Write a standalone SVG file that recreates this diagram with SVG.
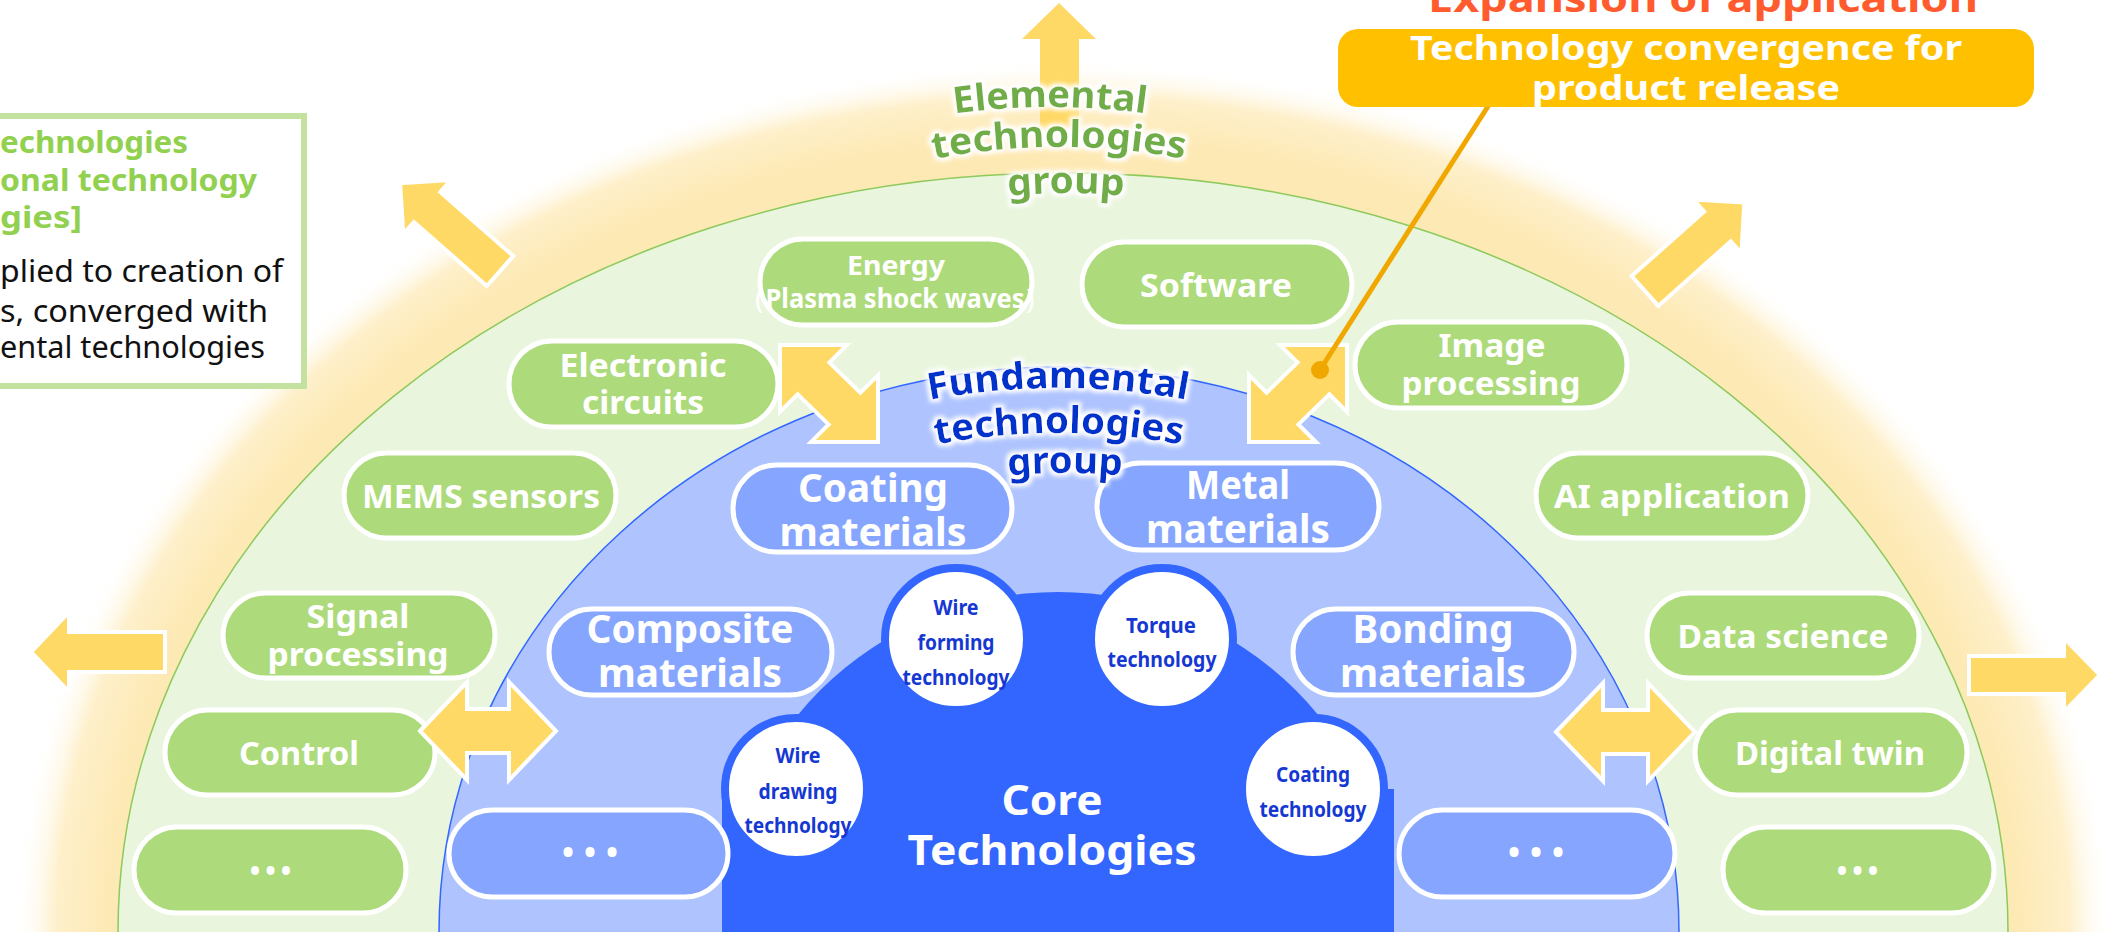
<svg xmlns="http://www.w3.org/2000/svg" width="2111" height="932" viewBox="0 0 2111 932">
<defs>
<style>
text{font-family:'Noto Sans','DejaVu Sans',sans-serif;}
.gp{fill:#ADDB7B;stroke:#fff;stroke-width:5;}
.bp{fill:#86A5FE;stroke:#fff;stroke-width:5;}
.wt{fill:#fff;font-weight:700;text-anchor:middle;}
.g32{font-size:32px;}
.b40{font-size:40px;}
.ct{fill:#1638D2;font-weight:700;font-size:21px;text-anchor:middle;}
.ar{fill:#FFD966;stroke:#fff;stroke-width:4;stroke-linejoin:miter;}
.cc{fill:#fff;stroke:#3366FF;stroke-width:8;}
.arcg{fill:#70AD47;font-weight:700;font-size:37px;}
.arcb{fill:#0033CC;font-weight:700;font-size:37px;}
</style>
<radialGradient id="glowG" cx="0.5" cy="0.5" r="0.5">
<stop offset="0" stop-color="#FDE8B0"/>
<stop offset="0.9" stop-color="#FDE9B4"/>
<stop offset="0.95" stop-color="#FEF0CB"/>
<stop offset="0.99" stop-color="#FFFFFF" stop-opacity="0"/>
</radialGradient>
<filter id="wglow" x="-20%" y="-40%" width="140%" height="180%">
<feMorphology in="SourceAlpha" operator="dilate" radius="3" result="d"/>
<feGaussianBlur in="d" stdDeviation="2" result="b"/>
<feFlood flood-color="#ffffff"/>
<feComposite in2="b" operator="in" result="w"/>
<feMerge><feMergeNode in="w"/><feMergeNode in="SourceGraphic"/></feMerge>
</filter>
<path id="pE1" d="M350,807 A700,700 0 0 1 1750,807"/>
<path id="pE2" d="M399,807 A660,660 0 0 1 1719,807"/>
<path id="pE3" d="M452,807 A614,614 0 0 1 1680,807"/>
<path id="pF1" d="M358,1088 A700,700 0 0 1 1758,1088"/>
<path id="pF2" d="M404,1088 A655,655 0 0 1 1714,1088"/>
<path id="pF3" d="M450,1088 A615,615 0 0 1 1680,1088"/>
</defs>

<rect width="2111" height="932" fill="#fff"/>

<g id="background">
<ellipse cx="1063" cy="932" rx="1060" ry="880" fill="url(#glowG)"/>
<ellipse id="elemental-area" cx="1063" cy="932" rx="945" ry="759" fill="#E9F5DD" stroke="#8DC95C" stroke-width="1.5"/>
<ellipse id="fundamental-area" cx="1059" cy="932" rx="620" ry="565" fill="#AFC4FF" stroke="#3366FF" stroke-width="1.5"/>
</g>

<g id="core">
<ellipse cx="1058" cy="927" rx="336" ry="335" fill="#3366FF"/>
<rect x="722" y="789" width="672" height="140" fill="#3366FF"/>
<text class="wt" x="1052" y="815" font-size="42" textLength="101" lengthAdjust="spacingAndGlyphs">Core</text>
<text class="wt" x="1052" y="865" font-size="42" textLength="289" lengthAdjust="spacingAndGlyphs">Technologies</text>
</g>

<g id="wire-forming">
<circle class="cc" cx="956" cy="639" r="71"/>
<text class="ct" x="956" y="615" textLength="45" lengthAdjust="spacingAndGlyphs">Wire</text>
<text class="ct" x="956" y="650" textLength="77" lengthAdjust="spacingAndGlyphs">forming</text>
<text class="ct" x="956" y="685" textLength="107" lengthAdjust="spacingAndGlyphs">technology</text>
</g>
<g id="torque">
<circle class="cc" cx="1162" cy="639" r="71"/>
<text class="ct" x="1161" y="633" textLength="70" lengthAdjust="spacingAndGlyphs">Torque</text>
<text class="ct" x="1162" y="667" textLength="109" lengthAdjust="spacingAndGlyphs">technology</text>
</g>
<g id="wire-drawing">
<circle class="cc" cx="796" cy="789" r="71"/>
<text class="ct" x="798" y="763" textLength="45" lengthAdjust="spacingAndGlyphs">Wire</text>
<text class="ct" x="798" y="799" textLength="79" lengthAdjust="spacingAndGlyphs">drawing</text>
<text class="ct" x="798" y="833" textLength="107" lengthAdjust="spacingAndGlyphs">technology</text>
</g>
<g id="coating-tech">
<circle class="cc" cx="1313" cy="789" r="71"/>
<text class="ct" x="1313" y="782" textLength="74" lengthAdjust="spacingAndGlyphs">Coating</text>
<text class="ct" x="1313" y="817" textLength="107" lengthAdjust="spacingAndGlyphs">technology</text>
</g>

<g id="coating-materials">
<rect class="bp" x="733" y="465" width="279" height="87" rx="43.5"/>
<text class="wt b40" x="873" y="502" textLength="150" lengthAdjust="spacingAndGlyphs">Coating</text>
<text class="wt b40" x="873" y="546" textLength="187" lengthAdjust="spacingAndGlyphs">materials</text>
</g>
<g id="metal-materials">
<rect class="bp" x="1097" y="463" width="282" height="87" rx="43.5"/>
<text class="wt b40" x="1238" y="499" textLength="104" lengthAdjust="spacingAndGlyphs">Metal</text>
<text class="wt b40" x="1238" y="543" textLength="184" lengthAdjust="spacingAndGlyphs">materials</text>
</g>
<g id="composite-materials">
<rect class="bp" x="549" y="609" width="283" height="86" rx="43"/>
<text class="wt b40" x="690" y="643" textLength="207" lengthAdjust="spacingAndGlyphs">Composite</text>
<text class="wt b40" x="690" y="687" textLength="184" lengthAdjust="spacingAndGlyphs">materials</text>
</g>
<g id="bonding-materials">
<rect class="bp" x="1293" y="609" width="281" height="86" rx="43"/>
<text class="wt b40" x="1433" y="643" textLength="161" lengthAdjust="spacingAndGlyphs">Bonding</text>
<text class="wt b40" x="1433" y="687" textLength="186" lengthAdjust="spacingAndGlyphs">materials</text>
</g>
<g id="blue-more-left">
<rect class="bp" x="449" y="810" width="279" height="87" rx="43.5"/>
<text class="wt" x="595" y="864" font-size="32" letter-spacing="10">•••</text>
</g>
<g id="blue-more-right">
<rect class="bp" x="1399" y="810" width="276" height="87" rx="43.5"/>
<text class="wt" x="1541" y="864" font-size="32" letter-spacing="10">•••</text>
</g>

<g id="energy">
<rect class="gp" x="760" y="239" width="272" height="86" rx="43"/>
<text class="wt" x="896" y="275" font-size="27" textLength="98" lengthAdjust="spacingAndGlyphs">Energy</text>
<text class="wt" x="895" y="308" font-size="27" textLength="310" lengthAdjust="spacingAndGlyphs">（Plasma shock waves）</text>
</g>
<g id="software">
<rect class="gp" x="1082" y="242" width="270" height="85" rx="42.5"/>
<text class="wt g32" x="1216" y="297" textLength="152" lengthAdjust="spacingAndGlyphs">Software</text>
</g>
<g id="electronic-circuits">
<rect class="gp" x="509" y="341" width="269" height="86" rx="43"/>
<text class="wt g32" x="643" y="377" textLength="167" lengthAdjust="spacingAndGlyphs">Electronic</text>
<text class="wt g32" x="643" y="414" textLength="122" lengthAdjust="spacingAndGlyphs">circuits</text>
</g>
<g id="image-processing">
<rect class="gp" x="1355" y="322" width="272" height="86" rx="43"/>
<text class="wt g32" x="1492" y="357" textLength="107" lengthAdjust="spacingAndGlyphs">Image</text>
<text class="wt g32" x="1491" y="395" textLength="179" lengthAdjust="spacingAndGlyphs">processing</text>
</g>
<g id="mems-sensors">
<rect class="gp" x="344" y="453" width="272" height="85" rx="42.5"/>
<text class="wt g32" x="481" y="508" textLength="238" lengthAdjust="spacingAndGlyphs">MEMS sensors</text>
</g>
<g id="ai-application">
<rect class="gp" x="1536" y="453" width="272" height="85" rx="42.5"/>
<text class="wt g32" x="1672" y="508" textLength="236" lengthAdjust="spacingAndGlyphs">AI application</text>
</g>
<g id="signal-processing">
<rect class="gp" x="223" y="593" width="272" height="85" rx="42.5"/>
<text class="wt g32" x="358" y="628" textLength="103" lengthAdjust="spacingAndGlyphs">Signal</text>
<text class="wt g32" x="358" y="666" textLength="181" lengthAdjust="spacingAndGlyphs">processing</text>
</g>
<g id="data-science">
<rect class="gp" x="1647" y="593" width="272" height="85" rx="42.5"/>
<text class="wt g32" x="1783" y="648" textLength="211" lengthAdjust="spacingAndGlyphs">Data science</text>
</g>
<g id="control">
<rect class="gp" x="165" y="710" width="270" height="85" rx="42.5"/>
<text class="wt g32" x="299" y="765" textLength="120" lengthAdjust="spacingAndGlyphs">Control</text>
</g>
<g id="digital-twin">
<rect class="gp" x="1695" y="710" width="272" height="85" rx="42.5"/>
<text class="wt g32" x="1830" y="765" textLength="190" lengthAdjust="spacingAndGlyphs">Digital twin</text>
</g>
<g id="green-more-left">
<rect class="gp" x="134" y="827" width="272" height="86" rx="43"/>
<text class="wt" x="273" y="881" font-size="28" letter-spacing="5">•••</text>
</g>
<g id="green-more-right">
<rect class="gp" x="1723" y="827" width="271" height="86" rx="43"/>
<text class="wt" x="1860" y="881" font-size="28" letter-spacing="5">•••</text>
</g>

<g id="connectors">
<polygon points="1059,3 1096,39 1079,39 1079,132 1040,132 1040,39 1022,39" fill="#FFD966"/>
<polygon class="ar" points="0,-20 97,-20 97,-36 133,0 97,36 97,20 0,20" transform="translate(500,271) rotate(221.3)"/>
<polygon class="ar" points="0,-20 97,-20 97,-36 133,0 97,36 97,20 0,20" transform="translate(1645,291) rotate(-41.7)"/>
<polygon class="ar" points="165,632 69,632 69,612 31,652 69,692 69,672 165,672"/>
<polygon class="ar" points="1969,656 2064,656 2064,638 2100,675 2064,712 2064,694 1969,694"/>
<polygon class="ar" points="420,731 467,682 467,709 509,709 509,682 556,731 509,780 509,753 467,753 467,780"/>
<polygon class="ar" points="1556,732 1603,683 1603,710 1648,710 1648,683 1695,732 1648,781 1648,754 1603,754 1603,781"/>
<polygon class="ar" points="780,345 847,345 829.4,362.6 860.4,392.6 878,375 878,442 811,442 828.6,424.4 797.6,394.4 780,412"/>
<polygon class="ar" points="1347,345 1280,345 1297.6,362.6 1266.6,392.6 1249,375 1249,442 1316,442 1298.4,424.4 1329.4,394.4 1347,412"/>
<line x1="1492" y1="100" x2="1320" y2="370" stroke="#F0A800" stroke-width="5"/>
<circle cx="1320" cy="370" r="9" fill="#F0A800"/>
</g>

<g id="elemental-label" filter="url(#wglow)">
<text class="arcg"><textPath href="#pE1" startOffset="50%" text-anchor="middle" textLength="192" lengthAdjust="spacingAndGlyphs">Elemental</textPath></text>
<text class="arcg"><textPath href="#pE2" startOffset="50%" text-anchor="middle" textLength="252" lengthAdjust="spacingAndGlyphs">technologies</textPath></text>
<text class="arcg"><textPath href="#pE3" startOffset="50%" text-anchor="middle" textLength="116" lengthAdjust="spacingAndGlyphs">group</textPath></text>
</g>
<g id="fundamental-label" filter="url(#wglow)">
<text class="arcb"><textPath href="#pF1" startOffset="50%" text-anchor="middle" textLength="259" lengthAdjust="spacingAndGlyphs">Fundamental</textPath></text>
<text class="arcb"><textPath href="#pF2" startOffset="50%" text-anchor="middle" textLength="247" lengthAdjust="spacingAndGlyphs">technologies</textPath></text>
<text class="arcb"><textPath href="#pF3" startOffset="50%" text-anchor="middle" textLength="114" lengthAdjust="spacingAndGlyphs">group</textPath></text>
</g>

<g id="callout">
<rect x="1338" y="29" width="696" height="78" rx="20" fill="#FFC000"/>
<text class="wt" x="1686" y="60" font-size="34" textLength="552" lengthAdjust="spacingAndGlyphs">Technology convergence for</text>
<text class="wt" x="1686" y="100" font-size="34" textLength="308" lengthAdjust="spacingAndGlyphs">product release</text>
</g>

<g id="legend-box">
<rect x="-10" y="116" width="314" height="270" fill="#fff" stroke="#C3E2A0" stroke-width="6"/>
<g font-size="30" text-anchor="end">
<text x="188" y="153" fill="#92D050" font-weight="700" textLength="188" lengthAdjust="spacingAndGlyphs">echnologies</text>
<text x="257" y="191" fill="#92D050" font-weight="700" textLength="257" lengthAdjust="spacingAndGlyphs">onal technology</text>
<text x="82" y="228" fill="#92D050" font-weight="700" textLength="82" lengthAdjust="spacingAndGlyphs">gies]</text>
<text x="283" y="282" fill="#111" textLength="283" lengthAdjust="spacingAndGlyphs">plied to creation of</text>
<text x="268" y="322" fill="#111" textLength="268" lengthAdjust="spacingAndGlyphs">s, converged with</text>
<text x="265" y="358" fill="#111" textLength="265" lengthAdjust="spacingAndGlyphs">ental technologies</text>
</g>
</g>

<text id="expansion-title" x="1703" y="12" fill="#FF5B2E" font-size="38" font-weight="700" text-anchor="middle" textLength="550" lengthAdjust="spacingAndGlyphs">Expansion of application</text>
</svg>
